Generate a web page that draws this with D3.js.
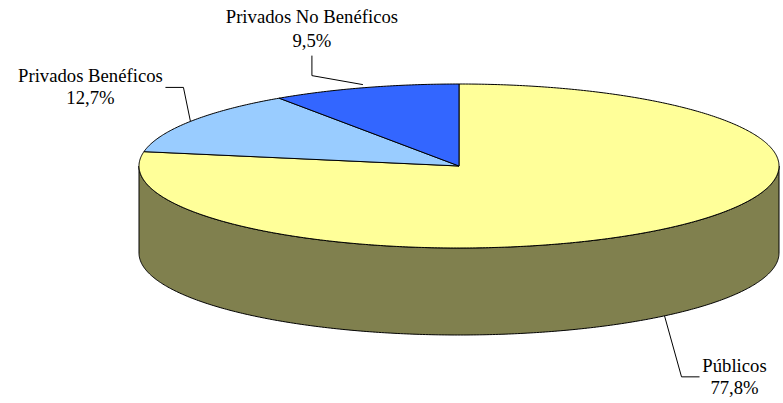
<!DOCTYPE html>
<html><head><meta charset="utf-8">
<script src="https://cdn.jsdelivr.net/npm/d3@7/dist/d3.min.js"></script>
<style>body{margin:0;background:#fff}svg{display:block}
text{font-family:"Liberation Serif","Times New Roman",serif;}</style>
</head><body>
<svg id="c" width="783" height="403"></svg>
<script>
const categories = ["Públicos", "Privados Benéficos", "Privados No Benéficos"];
const values = [77.8, 12.7, 9.5];
const valueLabels = ["77,8%", "12,7%", "9,5%"];
const topColors = ["#FFFF99", "#99CCFF", "#3366FF"];
const sideColors = ["#80804E", "#4D6680", "#1A3380"];

const svg = d3.select("#c");
const cx = 459, cy = 166, rx = 320, ry = 82, depth = 87;
const pie = d3.pie().sort(null).value(d => d)(values);
const pt = (a, dy = 0) => [cx + rx * Math.sin(a), cy - ry * Math.cos(a) + dy];
const arcPts = (a0, a1, dy = 0) => {
  const n = Math.max(2, Math.ceil(Math.abs(a1 - a0) / 0.01));
  return d3.range(n + 1).map(i => pt(a0 + (a1 - a0) * i / n, dy));
};
const line = d3.line();

// sides (front half: angles PI/2 .. 3PI/2)
pie.forEach((p, i) => {
  const s = Math.max(p.startAngle, Math.PI / 2), e = Math.min(p.endAngle, 3 * Math.PI / 2);
  if (e <= s) return;
  const pts = arcPts(s, e, 0).concat(arcPts(e, s, depth));
  svg.append("path").attr("d", line(pts) + "Z")
    .attr("fill", sideColors[i]).attr("stroke", "#000").attr("stroke-width", 1)
    .attr("stroke-linejoin", "round");
});
// tops
pie.forEach((p, i) => {
  const pts = [[cx, cy]].concat(arcPts(p.startAngle, p.endAngle));
  svg.append("path").attr("d", line(pts) + "Z")
    .attr("fill", topColors[i]).attr("stroke", "#000").attr("stroke-width", 1)
    .attr("stroke-linejoin", "round");
});

// labels
const fs = 18.7;
function label(lines, textX, y1, gap) {
  lines.forEach((t, k) => {
    svg.append("text").attr("x", textX).attr("y", y1 + k * gap).attr("text-anchor", "middle")
      .attr("font-size", fs).attr("fill", "#000").text(t);
  });
}
function leader(points) {
  svg.append("polyline").attr("points", points.join(" "))
    .attr("fill", "none").attr("stroke", "#000").attr("stroke-width", 1);
}
const mid = pie.map(p => (p.startAngle + p.endAngle) / 2);

// Públicos
{
  const [x, y] = pt(mid[0], depth);
  leader([[x, y], [x + 17, y + 61], [x + 35, y + 61]]);
  label([categories[0], valueLabels[0]], x + 70, y + 56, 22);
}
// Privados Benéficos
{
  const [x, y] = pt(mid[1]);
  leader([[x, y], [x - 7, y - 34], [x - 25, y - 34]]);
  label([categories[1], valueLabels[1]], x - 100, y - 39, 22);
}
// Privados No Benéficos
{
  const [x, y] = pt(mid[2]);
  leader([[x - 2, y - 3], [x - 53, y - 12], [x - 53, y - 32]]);
  label([categories[2], valueLabels[2]], x - 53, y - 65, 24);
}
</script>
</body></html>
